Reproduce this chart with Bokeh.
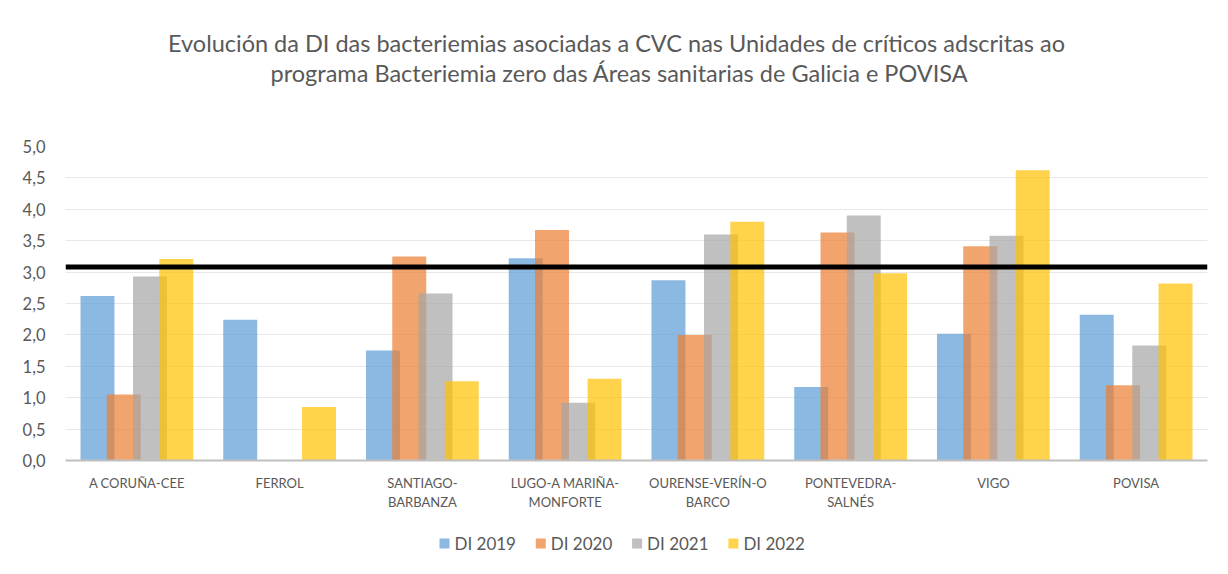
from bokeh.plotting import figure
from bokeh.layouts import column
from bokeh.models import (FactorRange, Span, FixedTicker, ColumnDataSource, Range1d)
from bokeh.core.properties import value
from bokeh.transform import dodge
from bokeh.embed import file_html
from bokeh.resources import INLINE

# ---------------- data ----------------
areas = ["A CORUÑA-CEE", "FERROL", "SANTIAGO-\nBARBANZA", "LUGO-A MARIÑA-\nMONFORTE",
         "OURENSE-VERÍN-O\nBARCO", "PONTEVEDRA-\nSALNÉS", "VIGO", "POVISA"]
di_2019 = [2.62, 2.24, 1.75, 3.22, 2.87, 1.17, 2.02, 2.32]
di_2020 = [1.05, 0.0, 3.25, 3.67, 2.00, 3.63, 3.41, 1.20]
di_2021 = [2.93, 0.0, 2.66, 0.92, 3.60, 3.90, 3.58, 1.83]
di_2022 = [3.21, 0.85, 1.26, 1.30, 3.80, 2.98, 4.62, 2.82]
series_names = ["DI 2019", "DI 2020", "DI 2021", "DI 2022"]
threshold = 3.08
y_ticks = [0, 0.5, 1, 1.5, 2, 2.5, 3, 3.5, 4, 4.5, 5]
y_tick_labels = ["0,0", "0,5", "1,0", "1,5", "2,0", "2,5", "3,0", "3,5", "4,0", "4,5", "5,0"]
title_lines = ["Evolución da DI das bacteriemias asociadas a CVC nas Unidades de críticos adscritas ao",
               "programa Bacteriemia zero das Áreas sanitarias de Galicia e POVISA"]

# ---------------- style ----------------
colors = ["#5B9BD5", "#ED7D31", "#A5A5A5", "#FFC000"]
offsets = [-0.276, -0.092, 0.092, 0.276]
bar_w = 0.238
FONT = "Lato"
TXT = "#595959"
W = 1220
FL, FR = 65, 1207   # frame left / right (strips share the main frame in the column)


def blank(fig):
    fig.axis.visible = False
    fig.grid.visible = False
    fig.outline_line_color = None
    fig.min_border = 0


# ---------------- title strip ----------------
TH = 132
pt = figure(width=W, height=TH, x_range=Range1d(FL, FR), y_range=Range1d(0, TH),
            output_backend="svg", toolbar_location=None)
blank(pt)
pt.text(x=[616, 619], y=[TH - 42, TH - 72], text=title_lines,
        text_font=value(FONT), text_font_size="23.5px", text_color=TXT,
        text_align="center", text_baseline="middle")

# ---------------- main chart ----------------
source = ColumnDataSource(dict(area=areas, s0=di_2019, s1=di_2020, s2=di_2021, s3=di_2022))

p = figure(x_range=FactorRange(*areas), y_range=Range1d(0, 5),
           frame_width=FR - FL, frame_height=314, output_backend="svg", toolbar_location=None,
           min_border_left=FL, min_border_right=W - FR, min_border_top=14, min_border_bottom=56)

for i, key in enumerate(["s0", "s1", "s2", "s3"]):
    p.vbar(x=dodge("area", offsets[i], range=p.x_range), top=key, width=bar_w,
           source=source, fill_color=colors[i], fill_alpha=0.7, line_color=None)

p.add_layout(Span(location=threshold, dimension="width", line_color="black", line_width=5))

p.yaxis.ticker = FixedTicker(ticks=y_ticks)
p.yaxis.major_label_overrides = {t: l for t, l in zip(y_ticks, y_tick_labels)}
p.yaxis.axis_line_color = None
p.yaxis.major_tick_line_color = None
p.yaxis.minor_tick_line_color = None
p.yaxis.major_label_text_font = FONT
p.yaxis.major_label_text_font_size = "16.5px"
p.yaxis.major_label_text_color = TXT
p.yaxis.major_label_standoff = 14

p.xaxis.axis_line_color = "#BFBFBF"
p.xaxis.axis_line_width = 2
p.xaxis.major_tick_line_color = None
p.xaxis.minor_tick_line_color = None
p.xaxis.major_label_text_font = FONT
p.xaxis.major_label_text_font_size = "13px"
p.xaxis.major_label_text_color = TXT
p.xaxis.major_label_standoff = 8
p.xaxis.major_label_orientation = "horizontal"

p.xgrid.grid_line_color = None
p.ygrid.grid_line_color = "#E8E8E8"
p.outline_line_color = None

# ---------------- legend strip ----------------
LH = 50
pl = figure(width=W, height=LH, x_range=Range1d(FL, FR), y_range=Range1d(0, LH),
            output_backend="svg", toolbar_location=None)
blank(pl)
leg_x0, leg_pitch = 444, 96.3
mx = [leg_x0 + k * leg_pitch for k in range(len(series_names))]
pl.scatter(x=mx, y=[LH - 27] * 4, marker="square", size=10, fill_color=colors,
           fill_alpha=0.7, line_color=None)
pl.text(x=[v + 10 for v in mx], y=[LH - 27] * 4, text=series_names,
        text_font=value(FONT), text_font_size="17px", text_color=TXT,
        text_align="left", text_baseline="middle")

layout = column(pt, p, pl, spacing=0)
open("out.html", "w").write(file_html(layout, INLINE))
